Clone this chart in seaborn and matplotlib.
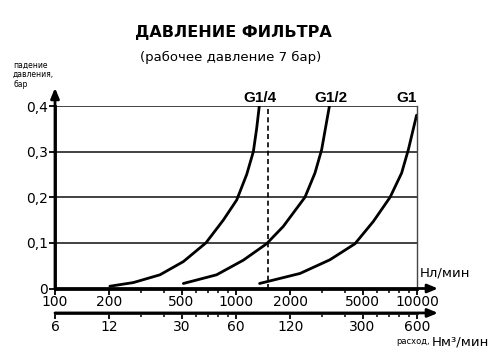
import matplotlib
matplotlib.use("Agg")
import matplotlib.pyplot as plt
import matplotlib.ticker as mticker
import seaborn as sns
import pandas as pd
import numpy as np

sns.set_style("white")
plt.rcParams['font.family'] = ['DejaVu Sans']
plt.rcParams['text.color'] = 'black'
plt.rcParams['xtick.color'] = 'black'
plt.rcParams['ytick.color'] = 'black'

# расход (Нл/мин) и падение давления (бар)
flow_g14 = [201, 271, 380, 512, 682, 851, 1009, 1146, 1247, 1300, 1345]
dp_g14 = [0.005, 0.013, 0.030, 0.059, 0.100, 0.150, 0.194, 0.250, 0.300, 0.350, 0.400]
flow_g12 = [512, 781, 1097, 1475, 1824, 2404, 2730, 2972, 3282]
dp_g12 = [0.011, 0.030, 0.062, 0.098, 0.136, 0.200, 0.253, 0.304, 0.400]
flow_g1 = [1350, 2259, 3304, 4540, 5738, 7100, 8222, 8954, 9950]
dp_g1 = [0.011, 0.033, 0.063, 0.098, 0.147, 0.200, 0.253, 0.304, 0.380]

series_names = ["G1/4", "G1/2", "G1"]
label_x = [1350, 3350, 10000]

xticks_nl = [100, 200, 500, 1000, 2000, 5000, 10000]
xticks_nm3 = [6, 12, 30, 60, 120, 300, 600]
xminor_nm3 = [18, 24, 36, 42, 48, 54, 180, 240, 360, 420, 480, 540]
yticks = [0, 0.1, 0.2, 0.3, 0.4]
ytick_labels = ["0", "0,1", "0,2", "0,3", "0,4"]
working_flow = 1500

df = pd.concat([
    pd.DataFrame({"flow": flow_g14, "dp": dp_g14, "filter": "G1/4"}),
    pd.DataFrame({"flow": flow_g12, "dp": dp_g12, "filter": "G1/2"}),
    pd.DataFrame({"flow": flow_g1, "dp": dp_g1, "filter": "G1"}),
])

W, H = 495, 358
fig = plt.figure(figsize=(W / 100, H / 100), dpi=100)
ax = fig.add_axes([55 / W, 69.5 / H, 362 / W, 182.5 / H])

sns.lineplot(data=df, x="flow", y="dp", hue="filter", palette=["black"] * 3,
             estimator=None, sort=False, lw=2, legend=False, ax=ax)

ax.set_xscale("log")
ax.set_xlim(100, 10000)
ax.set_ylim(0, 0.4)
ax.set_xlabel("")
ax.set_ylabel("")

ax.set_xticks(xticks_nl)
ax.set_xticklabels([str(v) for v in xticks_nl])
ax.xaxis.set_minor_locator(mticker.LogLocator(subs=np.arange(2, 10)))
ax.xaxis.set_minor_formatter(mticker.NullFormatter())
ax.tick_params(axis="x", which="major", direction="out", length=4, width=1.3,
               labelsize=10, pad=1, bottom=True)
ax.tick_params(axis="x", which="minor", direction="out", length=3, width=1.1, bottom=True)

ax.set_yticks(yticks)
ax.set_yticklabels(ytick_labels)
ax.tick_params(axis="y", direction="out", length=4, width=1.3, labelsize=10, pad=1, left=True)

ax.grid(axis="y", color="#333333", lw=1.3)
ax.grid(axis="x", visible=False)
ax.axvline(working_flow, color="black", lw=1.2, ls=(0, (3, 2)))

for s in ["left", "bottom"]:
    ax.spines[s].set_linewidth(2)
    ax.spines[s].set_color("black")
ax.spines["top"].set_visible(False)
ax.spines["right"].set_linewidth(1)
ax.spines["right"].set_color("#444444")

# оси со стрелками
arrow = dict(arrowstyle="-|>,head_length=0.6,head_width=0.25", lw=2, color="black",
             shrinkA=0, shrinkB=0)
ax.annotate("", xy=(1.058, 0), xytext=(0, 0), xycoords="axes fraction",
            arrowprops=arrow, annotation_clip=False)
ax.annotate("", xy=(0, 1.099), xytext=(0, 0), xycoords="axes fraction",
            arrowprops=arrow, annotation_clip=False)

sec_loc = -0.134
sec = ax.secondary_xaxis(sec_loc, functions=(lambda x: x * 0.06, lambda x: x / 0.06))
sec.xaxis.set_major_locator(mticker.FixedLocator(xticks_nm3))
sec.xaxis.set_major_formatter(mticker.FixedFormatter([str(v) for v in xticks_nm3]))
sec.xaxis.set_minor_locator(mticker.FixedLocator(xminor_nm3))
sec.xaxis.set_minor_formatter(mticker.NullFormatter())
sec.tick_params(axis="x", which="major", direction="out", length=4, width=1.3,
                labelsize=10, pad=1)
sec.tick_params(axis="x", which="minor", direction="out", length=3, width=1.1)
sec.spines["bottom"].set_linewidth(2)
ax.annotate("", xy=(1.058, sec_loc), xytext=(0, sec_loc), xycoords="axes fraction",
            arrowprops=arrow, annotation_clip=False)

# подписи кривых
for name, lx in zip(series_names, label_x):
    ax.text(lx, 0.418, name, ha="center" if name != "G1" else "right", va="center",
            fontsize=11, fontweight="bold", family=["Liberation Sans", "DejaVu Sans"],
            clip_on=False)

fig.text(233 / W, 1 - 32 / H, "ДАВЛЕНИЕ ФИЛЬТРА", ha="center", va="center",
         fontsize=11.5, fontweight="bold")
fig.text(231 / W, 1 - 57 / H, "(рабочее давление 7 бар)", ha="center", va="center",
         fontsize=9.5)
fig.text(13 / W, 1 - 61 / H, "падение\nдавления,\nбар", ha="left", va="top",
         fontsize=5.5, linespacing=1.05)
fig.text(420 / W, 1 - 273 / H, "Нл/мин", ha="left", va="center", fontsize=9.5)
fig.text(430 / W, 1 - 342 / H, "расход,", ha="right", va="center", fontsize=6)
fig.text(432 / W, 1 - 342 / H, "Нм³/мин", ha="left", va="center", fontsize=9.5)

fig.savefig("out.png", dpi=100)
